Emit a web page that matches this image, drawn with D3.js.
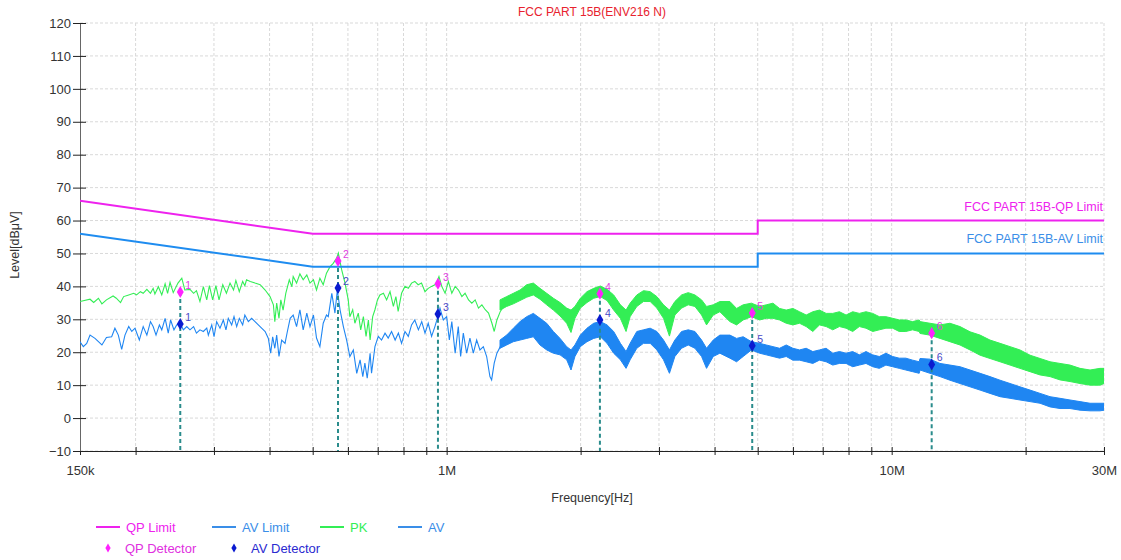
<!DOCTYPE html>
<html>
<head>
<meta charset="utf-8">
<script src="https://cdn.jsdelivr.net/npm/d3@7"></script>
<style>
  body { margin: 0; background: #fff; }
  text { font-family: Arial, "Liberation Sans", sans-serif; }
</style>
</head>
<body>
<div class="chart"></div>
<script>
// ---- data (frequencies in MHz, levels in dBuV) ----
var limitFreq = [0.15, 0.5, 5, 5, 30];
var qpLimit = [66, 56, 56, 60, 60];
var avLimit = [56, 46, 46, 50, 50];

// low-frequency part of the PK trace, read point by point
var pkLineFreq = [0.150,0.158,0.161,0.165,0.168,0.172,0.178,0.181,0.185,0.188,0.193,0.198,0.201,0.205,0.208,0.212,0.216,0.219,0.221,0.225,0.229,0.233,0.236,0.239,0.243,0.249,0.254,0.258,0.265,0.270,0.274,0.279,0.284,0.289,0.293,0.298,0.303,0.308,0.314,0.320,0.326,0.332,0.336,0.342,0.348,0.352,0.355,0.362,0.371,0.381,0.391,0.401,0.408,0.411,0.415,0.420,0.424,0.429,0.435,0.443,0.449,
  0.452,0.460,0.468,0.476,0.485,0.493,0.502,0.510,0.519,0.528,0.537,0.547,0.556,0.566,0.571,0.581,0.591,0.601,0.606,0.615,0.622,0.633,0.641,0.650,0.659,0.667,0.673,0.682,0.690,0.699,0.708,0.721,0.733,0.746,0.759,0.769,0.778,0.792,0.806,0.820,0.834,0.848,0.863,0.878,0.894,0.909,0.925,0.941,0.949,0.961,0.975,0.992,1.009,1.027,1.045,1.063,1.082,1.100,1.120,1.139,1.159,1.179,1.200,1.221,1.242,1.264,1.279,1.297,1.320,1.343,1.366,1.390];
var pkLineVal = [35.4,36.1,35.1,36.4,34.7,35.9,37.1,36.4,35.1,36.9,37.4,37.9,37.4,38.4,37.9,39.1,37.9,39.4,37.7,39.9,37.4,40.8,37.9,41.2,38.1,41.0,42.5,38.9,39.1,37.9,38.7,35.4,39.9,35.9,40.2,35.9,40.2,35.9,40.5,37.9,41.0,38.9,41.8,38.4,41.5,40.2,42.0,41.5,41.0,40.5,38.9,36.9,34.4,29.3,34.9,30.3,35.9,32.8,37.9,42.0,39.9,
  43.0,41.0,43.8,42.0,43.5,41.0,42.0,38.9,42.5,40.5,44.0,46.0,47.0,48.6,50.1,45.0,41.0,35.9,30.8,32.9,28.8,31.9,26.8,30.8,24.8,29.8,23.7,30.8,32.9,35.9,37.4,37.9,35.9,38.4,33.9,36.9,32.4,37.9,40.0,39.4,41.0,41.5,40.5,41.0,38.4,39.4,40.0,40.5,41.0,43.0,40.0,37.9,41.5,37.9,40.0,38.9,36.9,37.9,35.9,34.9,35.9,33.4,34.4,32.9,31.9,28.8,26.3,29.8,32.4,33.9,35.9,36.9];

// dense part of the PK trace, read as upper / lower envelope
var pkBandFreq = [1.318,1.364,1.412,1.462,1.513,1.566,1.621,1.678,1.737,1.798,1.861,1.903,1.942,1.997,2.067,2.140,2.215,2.293,2.373,2.457,2.530,2.584,2.675,2.769,2.866,2.967,3.071,3.167,3.257,3.372,3.490,3.613,3.740,3.837,3.972,4.111,
  4.330,4.482,4.638,4.840,5.050,5.227,5.410,5.599,5.795,5.998,6.208,6.425,6.650,6.883,7.124,7.373,7.631,7.898,8.174,8.460,8.756,9.063,9.380,9.708,10.05,10.40,10.76,11.14,11.53,
  11.58,12.19,12.84,13.52,14.24,15.00,15.80,16.63,17.52,18.45,19.42,20.46,21.55,22.69,23.89,25.16,26.50,27.91,29.39,30.00];
var pkBandHi = [35.9,36.9,37.9,38.9,40.5,41.0,39.4,37.9,36.4,35.1,33.4,32.8,33.9,36.4,38.4,39.4,40.1,39.1,37.4,34.4,32.8,34.9,37.4,38.7,38.4,36.9,34.4,32.8,35.4,37.4,38.1,37.4,35.9,33.9,34.4,35.4,
  35.4,33.3,34.4,34.9,33.9,34.4,34.9,33.3,32.8,33.3,32.3,31.3,32.3,32.8,31.8,31.8,32.3,31.3,32.3,31.8,32.3,31.8,30.8,30.8,30.3,29.8,29.8,29.3,29.8,
  29.3,28.8,28.3,28.8,27.8,26.2,25.2,23.7,22.7,21.7,20.7,19.1,18.1,17.1,16.6,16.1,15.1,14.6,15.1,15.1];
var pkBandLo = [32.8,33.9,34.7,35.7,36.7,37.4,36.1,34.4,32.8,31.0,28.8,26.0,30.3,33.4,35.1,36.4,36.9,35.7,32.8,30.3,26.3,30.8,33.9,35.4,35.4,33.4,30.3,24.9,31.3,33.4,34.4,33.9,31.3,28.3,31.3,32.3,
  29.3,28.3,29.8,30.8,29.8,30.3,30.3,29.8,28.8,28.3,28.8,27.8,26.3,28.3,27.8,26.8,27.8,27.3,26.3,27.8,27.3,26.3,26.8,27.3,27.3,26.3,26.3,26.8,26.3,
  25.7,25.2,24.2,23.2,22.2,20.7,19.1,18.1,17.1,16.1,15.1,14.1,13.1,12.6,11.6,11.1,10.5,10.0,10.0,10.5];

// low-frequency part of the AV trace
var avLineFreq = [0.150,0.1526,0.1553,0.158,0.1621,0.168,0.172,0.1767,0.1797,0.1829,0.1861,0.1893,0.193,0.1961,0.1994,0.2039,0.208,0.212,0.216,0.219,0.2223,0.2262,0.229,0.233,0.2368,0.2397,0.2439,0.2474,0.2517,0.2561,0.2606,0.265,0.270,0.274,0.279,0.284,0.289,0.2914,0.2966,0.3001,0.3042,0.3095,0.3149,0.3192,0.3231,0.3288,0.3328,0.3374,0.342,0.348,0.352,0.3584,0.3646,0.371,0.3774,0.3839,0.391,0.3975,0.4023,0.4065,0.411,0.415,0.420,0.4259,0.4333,0.4386,
  0.445,0.452,0.460,0.468,0.476,0.485,0.493,0.502,0.510,0.519,0.528,0.537,0.542,0.552,0.561,0.568,0.576,0.586,0.596,0.606,0.617,0.628,0.639,0.648,0.655,0.663,0.673,0.678,0.690,0.702,0.714,0.727,0.739,0.752,0.766,0.779,0.792,0.806,0.820,0.834,0.848,0.864,0.879,0.894,0.909,0.925,0.941,0.953,0.966,0.983,1.000,1.014,1.027,1.045,1.062,1.075,1.090,1.109,1.128,1.148,1.168,1.188,1.209,1.230,1.251,1.262,1.279,1.297,1.320,1.353,1.390];
var avLineVal = [23.2,21.7,22.7,25.2,24.2,22.2,24.5,24.7,27.3,25.2,20.9,25.2,27.8,26.3,27.3,23.7,27.8,25.2,29.3,27.8,25.2,28.3,26.8,30.3,25.8,29.8,26.8,28.3,28.8,26.8,27.8,26.8,27.8,25.8,26.8,26.3,27.3,25.2,28.3,24.7,29.3,27.3,29.8,26.8,30.3,28.3,30.8,27.8,30.3,28.3,31.3,29.3,30.3,29.3,28.3,27.3,26.3,24.2,19.7,24.7,21.2,25.2,18.7,23.7,22.7,26.3,
  30.3,31.3,27.8,32.9,26.8,31.9,27.8,31.3,24.3,21.7,28.8,31.3,30.8,37.9,31.9,38.9,32.9,27.8,23.7,18.7,20.7,13.6,17.7,12.6,16.7,12.1,19.7,13.6,21.7,24.8,23.7,25.8,24.3,26.3,23.7,25.8,22.7,26.3,24.8,28.3,29.8,26.8,29.3,25.8,28.8,24.8,27.8,30.3,33.4,29.8,30.8,23.7,29.3,19.7,27.8,18.7,25.8,19.7,24.3,19.7,23.7,20.7,21.7,18.7,12.6,11.6,16.7,19.7,21.7,23.7,25.3];

// dense part of the AV trace, upper / lower envelope
var avBandFreq = pkBandFreq.slice(0, 36).concat([4.330,4.482,4.638,4.840,5.050,5.227,5.410,5.599,5.795,5.998,6.208,6.425,6.650,6.883,7.124,7.373,7.631,7.898,8.174,8.460,8.756,9.063,9.380,9.708,10.05,10.40,10.76,11.14,11.53,
  11.58,12.19,12.84,13.52,14.24,15.00,15.80,16.63,17.52,18.45,19.42,20.46,21.55,22.69,23.89,25.16,26.50,27.91,29.39,30.00]);
var avBandHi = [23.7,25.2,27.3,29.3,30.8,31.8,30.3,28.8,26.3,24.2,21.7,20.7,22.2,25.2,27.3,28.8,29.3,28.3,26.3,22.7,20.2,22.7,26.3,26.8,27.3,26.3,23.7,20.7,23.7,26.3,26.8,26.3,23.7,21.2,23.7,25.2,
  25.2,24.2,24.7,23.2,22.7,22.2,21.7,21.2,22.2,21.2,20.7,21.2,20.2,20.7,21.2,19.7,20.2,19.7,20.2,19.2,20.2,19.2,18.7,19.7,18.7,18.2,18.2,17.6,17.1,
  18.1,17.9,16.6,16.1,15.6,14.6,13.6,12.6,11.5,10.5,9.5,8.5,7.5,6.5,6.0,5.5,5.0,4.5,4.5,4.5];
var avBandLo = [21.2,22.2,23.2,23.7,24.2,24.7,22.2,20.7,19.7,19.2,17.7,14.6,18.7,21.7,23.2,24.2,24.7,22.7,19.7,17.7,15.1,17.7,21.2,22.7,22.7,20.7,17.7,13.6,18.7,21.2,22.2,21.2,18.7,15.1,18.7,19.7,
  18.2,17.1,18.7,20.7,19.7,19.2,18.7,18.2,18.7,17.6,17.6,17.1,16.6,17.6,17.1,16.1,16.6,16.6,15.6,16.1,16.6,15.6,15.1,16.1,15.6,15.1,14.6,14.1,13.6,
  14.6,13.6,12.6,11.5,10.5,9.5,8.5,7.5,6.5,6.0,5.5,5.0,4.5,3.4,2.9,2.9,2.4,2.2,2.2,2.4];

// final measurement points
var markerNo = ["1", "2", "3", "4", "5", "6"];
var markerFreq = [0.252, 0.570, 0.956, 2.21, 4.86, 12.3];
var qpValues = [38.3, 47.7, 40.8, 37.8, 31.9, 25.8];
var avValues = [28.6, 39.5, 31.6, 29.8, 22.0, 16.3];

// axis ticks
var xTicks = [0.15,0.2,0.3,0.4,0.5,0.6,0.7,0.8,0.9,1,2,3,4,5,6,7,8,9,10,20,30];
var xTickLabels = {"0.15": "150k", "1": "1M", "10": "10M", "30": "30M"};
var yTicks = [-10,0,10,20,30,40,50,60,70,80,90,100,110,120];

// ---- drawing ----
var svgWidth = 1121;
var svgHeight = 560;
var margin = {top: 23, right: 17, bottom: 109, left: 80};
var width = svgWidth - margin.left - margin.right;
var height = svgHeight - margin.top - margin.bottom;

var colQP = "#ee22ee";
var colAVL = "#1e8cf0";
var colPK = "#33ee55";
var colAV = "#1f86f2";

var svg = d3.select(".chart").append("svg")
    .attr("width", svgWidth)
    .attr("height", svgHeight);

var chartGroup = svg.append("g")
    .attr("transform", `translate(${margin.left}, ${margin.top})`);

var x = d3.scaleLog().domain([0.15, 30]).range([0, width]);
var y = d3.scaleLinear().domain([-10, 120]).range([height, 0]);

svg.append("defs").append("clipPath").attr("id", "plot")
    .append("rect").attr("width", width).attr("height", height);

// grid
chartGroup.selectAll(".hgrid").data(yTicks).enter().append("line")
    .attr("x1", 0).attr("x2", width)
    .attr("y1", d => y(d)).attr("y2", d => y(d))
    .attr("stroke", "#d9d9d9").attr("stroke-dasharray", "3,2");
chartGroup.selectAll(".vgrid").data(xTicks.slice(1)).enter().append("line")
    .attr("x1", d => x(d)).attr("x2", d => x(d))
    .attr("y1", 0).attr("y2", height)
    .attr("stroke", "#d9d9d9").attr("stroke-dasharray", "3,2");

// axes
var bottomAxis = d3.axisBottom(x).tickValues(xTicks)
    .tickFormat(d => xTickLabels[String(d)] || "").tickSizeOuter(0);
var leftAxis = d3.axisLeft(y).tickValues(yTicks).tickSizeOuter(0);

var xAxisG = chartGroup.append("g")
    .attr("transform", `translate(0, ${height})`)
    .call(bottomAxis);
xAxisG.select(".domain").attr("stroke", "#222");
xAxisG.selectAll(".tick line").attr("y1", -4).attr("y2", 4).attr("stroke", "#222");
xAxisG.selectAll(".tick text").attr("y", 15).attr("font-size", 13)
    .attr("fill", "#333").style("font-family", "Arial, 'Liberation Sans', sans-serif");

var yAxisG = chartGroup.append("g").call(leftAxis);
yAxisG.select(".domain").attr("stroke", "#666");
yAxisG.selectAll(".tick line").attr("x1", -7).attr("x2", 6).attr("stroke", "#222");
yAxisG.selectAll(".tick text").attr("x", -9).attr("font-size", 13)
    .attr("fill", "#333").style("font-family", "Arial, 'Liberation Sans', sans-serif");

// traces
var plot = chartGroup.append("g").attr("clip-path", "url(#plot)");

var line = d3.line().x(d => x(d[0])).y(d => y(d[1]));
var band = d3.area().x(d => x(d[0])).y0(d => y(d[2])).y1(d => y(d[1]));

var avLine = d3.zip(avLineFreq, avLineVal);
var avBand = d3.zip(avBandFreq, avBandHi, avBandLo);
var pkLine = d3.zip(pkLineFreq, pkLineVal);
var pkBand = d3.zip(pkBandFreq, pkBandHi, pkBandLo);

plot.append("path").datum(pkBand).attr("d", band)
    .attr("fill", colPK).attr("stroke", colPK).attr("stroke-width", 1);
plot.append("path").datum(pkLine).attr("d", line)
    .attr("fill", "none").attr("stroke", colPK).attr("stroke-width", 1.1);
plot.append("path").datum(avBand).attr("d", band)
    .attr("fill", colAV).attr("stroke", colAV).attr("stroke-width", 1);
plot.append("path").datum(avLine).attr("d", line)
    .attr("fill", "none").attr("stroke", colAV).attr("stroke-width", 1.1);

// limit lines
plot.append("path").datum(d3.zip(limitFreq, qpLimit)).attr("d", line)
    .attr("fill", "none").attr("stroke", colQP).attr("stroke-width", 2);
plot.append("path").datum(d3.zip(limitFreq, avLimit)).attr("d", line)
    .attr("fill", "none").attr("stroke", colAVL).attr("stroke-width", 2);

chartGroup.append("text").attr("x", width - 1).attr("y", y(60) - 10)
    .attr("text-anchor", "end").attr("font-size", 12.5).attr("fill", colQP)
    .text("FCC PART 15B-QP Limit");
chartGroup.append("text").attr("x", width - 1).attr("y", y(50) - 10)
    .attr("text-anchor", "end").attr("font-size", 12.5).attr("fill", "#3a8ee8")
    .text("FCC PART 15B-AV Limit");

// markers
var marks = markerFreq.map((f, i) => ({n: markerNo[i], f: f, qp: qpValues[i], av: avValues[i]}));
var diamond = d3.symbol().type(d3.symbolDiamond).size(42);

chartGroup.selectAll(".drop").data(marks).enter().append("line")
    .attr("x1", d => x(d.f)).attr("x2", d => x(d.f))
    .attr("y1", d => y(d.qp)).attr("y2", height)
    .attr("stroke", "#2a8c8c").attr("stroke-width", 2).attr("stroke-dasharray", "4,3");

chartGroup.selectAll(".qpm").data(marks).enter().append("path")
    .attr("d", diamond).attr("fill", "#ff22ff")
    .attr("transform", d => `translate(${x(d.f)},${y(d.qp)})`);
chartGroup.selectAll(".avm").data(marks).enter().append("path")
    .attr("d", diamond).attr("fill", "#0a1ad0")
    .attr("transform", d => `translate(${x(d.f)},${y(d.av)})`);

chartGroup.selectAll(".qpn").data(marks).enter().append("text")
    .attr("x", d => x(d.f) + 5).attr("y", d => y(d.qp) - 3)
    .attr("font-size", 10.5).attr("fill", "#e040e0").text(d => d.n);
chartGroup.selectAll(".avn").data(marks).enter().append("text")
    .attr("x", d => x(d.f) + 5).attr("y", d => y(d.av) - 3)
    .attr("font-size", 10.5).attr("fill", "#4848c8").text(d => d.n);

// titles
svg.append("text").attr("x", 592).attr("y", 16).attr("text-anchor", "middle")
    .attr("font-size", 12).attr("fill", "#e8222e").text("FCC PART 15B(ENV216 N)");
svg.append("text").attr("x", 592).attr("y", 502).attr("text-anchor", "middle")
    .attr("font-size", 12.5).attr("fill", "#333").text("Frequency[Hz]");
svg.append("text").attr("transform", "translate(19, 245) rotate(-90)")
    .attr("text-anchor", "middle").attr("font-size", 12.5).attr("fill", "#333")
    .text("Level[dBμV]");

// legend
var legendLines = [
    {label: "QP Limit", color: colQP, x: 96},
    {label: "AV Limit", color: "#3a8ee8", x: 212},
    {label: "PK", color: colPK, x: 320},
    {label: "AV", color: "#3a8ee8", x: 398}
];
var legendPts = [
    {label: "QP Detector", color: "#ff22ff", text: "#e030e0", x: 108},
    {label: "AV Detector", color: "#0a1ad0", text: "#2a2ad0", x: 234}
];
var lg = svg.append("g");
legendLines.forEach(function(d) {
    lg.append("line").attr("x1", d.x).attr("x2", d.x + 24)
        .attr("y1", 527).attr("y2", 527)
        .attr("stroke", d.color).attr("stroke-width", 2);
    lg.append("text").attr("x", d.x + 30).attr("y", 532)
        .attr("font-size", 13).attr("fill", d.color).text(d.label);
});
legendPts.forEach(function(d) {
    lg.append("path").attr("d", d3.symbol().type(d3.symbolDiamond).size(24))
        .attr("transform", `translate(${d.x}, 548)`).attr("fill", d.color);
    lg.append("text").attr("x", d.x + 17).attr("y", 552.5)
        .attr("font-size", 13).attr("fill", d.text).text(d.label);
});
</script>
</body>
</html>
